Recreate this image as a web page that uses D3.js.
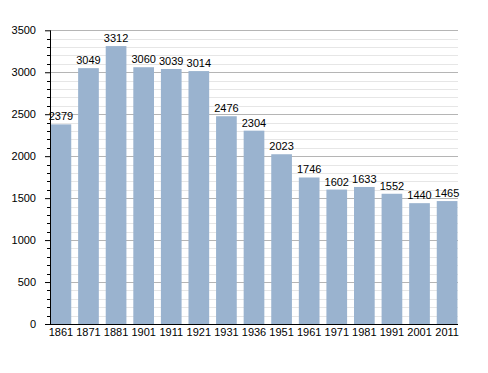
<!DOCTYPE html>
<meta charset="utf-8">
<html>
<script src="https://d3js.org/d3.v7.min.js"></script>
<style>
  body { margin: 0; background: #fff; }
  text { font-family: "Liberation Sans", Arial, sans-serif; }
</style>
<div id="chart"></div>
<script>

// census years and population
var years = ["1861", "1871", "1881", "1901", "1911", "1921", "1931", "1936", "1951", "1961", "1971", "1981", "1991", "2001", "2011"];
var population = [2379, 3049, 3312, 3060, 3039, 3014, 2476, 2304, 2023, 1746, 1602, 1633, 1552, 1440, 1465];
var yTicks = [0, 500, 1000, 1500, 2000, 2500, 3000, 3500];

var width = 488,
    height = 373;

// plot edges (note: "top" is taken by window.top)
var plotLeft = 50, plotRight = 458, plotTop = 30.3, plotBottom = 324;

var svg = d3.select("#chart")
  .append("svg")
    .attr("width", width)
    .attr("height", height);

var x = d3.scaleBand()
  .domain(years)
  .range([plotLeft, plotRight])
  .paddingInner(0.25)
  .paddingOuter(0.02);

var y = d3.scaleLinear()
  .domain([0, 3500])
  .range([plotBottom, plotTop]);

var minor = d3.range(100, 3501, 100).filter(function(d) { return d % 500 != 0; });

// minor gridlines every 100
svg.append("g")
  .selectAll("line")
  .data(minor)
  .enter().append("line")
    .attr("x1", plotLeft).attr("x2", plotRight)
    .attr("y1", function(d) { return Math.round(y(d)) + 0.5; })
    .attr("y2", function(d) { return Math.round(y(d)) + 0.5; })
    .attr("stroke", "#e6e6e6");

// major gridlines
svg.append("g")
  .selectAll("line")
  .data(yTicks.slice(1))
  .enter().append("line")
    .attr("x1", plotLeft).attr("x2", plotRight)
    .attr("y1", function(d) { return Math.round(y(d)) + 0.5; })
    .attr("y2", function(d) { return Math.round(y(d)) + 0.5; })
    .attr("stroke", "#b5b5b5");

// bars
svg.append("g")
  .selectAll("rect")
  .data(population)
  .enter().append("rect")
    .attr("x", function(d, i) { return x(years[i]); })
    .attr("y", function(d) { return y(d); })
    .attr("width", x.bandwidth())
    .attr("height", function(d) { return plotBottom - y(d); })
    .attr("fill", "#9ab3cf");

// value labels
svg.append("g")
  .selectAll("text")
  .data(population)
  .enter().append("text")
    .attr("x", function(d, i) { return x(years[i]) + x.bandwidth() / 2; })
    .attr("y", function(d) { return y(d) - 4; })
    .attr("text-anchor", "middle")
    .attr("font-size", "11px")
    .attr("fill", "#000")
    .text(function(d) { return d; });

// y axis with minor ticks
var yAxis = svg.append("g")
  .attr("transform", "translate(" + plotLeft + ",0)")
  .call(d3.axisLeft(y).tickValues(yTicks).tickSize(5).tickPadding(9).tickFormat(d3.format("d")));
yAxis.select(".domain").remove();
yAxis.selectAll("text").attr("font-size", "11px").attr("font-family", "Liberation Sans, Arial, sans-serif");

svg.append("g")
  .selectAll("line")
  .data(minor)
  .enter().append("line")
    .attr("x1", plotLeft - 3).attr("x2", plotLeft)
    .attr("y1", function(d) { return Math.round(y(d)) + 0.5; })
    .attr("y2", function(d) { return Math.round(y(d)) + 0.5; })
    .attr("stroke", "#000");

svg.append("line")
  .attr("x1", plotLeft + 0.5).attr("x2", plotLeft + 0.5)
  .attr("y1", plotTop).attr("y2", plotBottom)
  .attr("stroke", "#000");

// x axis
var xAxis = svg.append("g")
  .attr("transform", "translate(0," + plotBottom + ")")
  .call(d3.axisBottom(x).tickSize(0).tickPadding(4));
xAxis.select(".domain").remove();
xAxis.selectAll("text").attr("font-size", "11px").attr("font-family", "Liberation Sans, Arial, sans-serif");

svg.append("line")
  .attr("x1", plotLeft).attr("x2", plotRight)
  .attr("y1", plotBottom + 0.5).attr("y2", plotBottom + 0.5)
  .attr("stroke", "#000");

</script>
</html>
